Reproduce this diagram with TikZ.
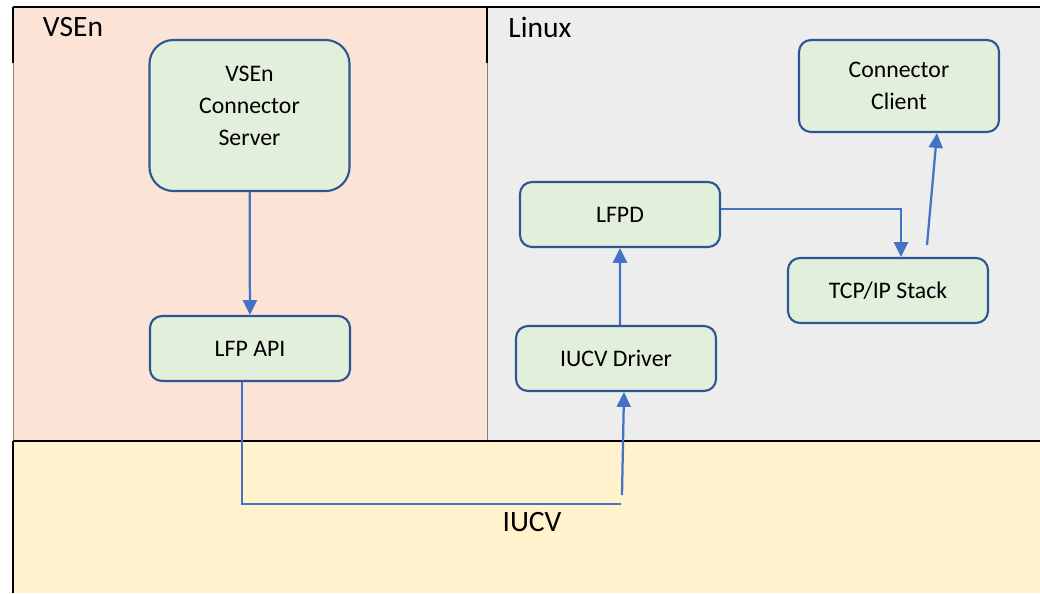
\documentclass[tikz,border=0pt]{standalone}
\usepackage{fontspec}
\setmainfont{Carlito}
\usetikzlibrary{arrows.meta}
\usetikzlibrary{positioning}
\definecolor{vsepink}{HTML}{FBE3D6}
\definecolor{linuxgray}{HTML}{EDEDED}
\definecolor{iucvyellow}{HTML}{FFF2CC}
\definecolor{boxgreen}{HTML}{E2EFDA}
\definecolor{boxblue}{HTML}{2F5597}
\definecolor{arrowblue}{HTML}{4472C4}
\tikzset{comp/.style = {draw=boxblue, fill=boxgreen, line width=1.5pt,
                        rounded corners=0.3cm, minimum width=5cm, minimum height=1.625cm,
                        align=center, font=\fontsize{16.9}{22.7}\selectfont}}
\tikzset{flow/.style = {draw=arrowblue, line width=1.6pt,
                        -{Triangle[length=0.37cm, width=0.35cm]}}}
\tikzset{link/.style = {draw=arrowblue, line width=0.8pt}}
\tikzset{area/.style = {font=\fontsize{21}{25}\selectfont}}

\begin{document}
\begin{tikzpicture}[x=0.025cm, y=-0.025cm]
    \useasboundingbox (0, 0) rectangle (1040, 593);
    \fill [vsepink] (13, 7) rectangle (487, 441);
    \fill [linuxgray] (487, 7) rectangle (1040, 441);
    \fill [iucvyellow] (13, 441) rectangle (1040, 593);

    \draw [line width=1.4pt] (13, 7) -- (1040, 7);
    \draw [line width=1.4pt] (13, 7) -- (13, 63);
    \draw [line width=1.4pt] (487, 7) -- (487, 63);
    \draw [gray, line width=0.6pt] (13, 63) -- (13, 441);
    \draw [gray, line width=0.6pt] (487, 63) -- (487, 441);
    \draw [line width=1.4pt] (13, 441) -- (1040, 441);
    \draw [line width=1.4pt] (13, 441) -- (13, 593);

    \node [area] (vsen) at (73, 27) {VSEn};
    \node [area] (linux) at (540, 27) {Linux};
    \node [area] (iucv) at (532, 522) {IUCV};

    \node [comp, minimum height=3.775cm, rounded corners=0.6cm, text depth=0.5cm] (server)
      at (249.5, 115.5) {VSEn\\Connector\\Server};
    \node [comp] (api) at (250, 348.5) {LFP API};
    \node [comp, minimum height=2.3cm] (client) at (899, 86) {Connector\\Client};
    \node [comp] (lfpd) at (620, 214.5) {LFPD};
    \node [comp] (tcp) at (888, 290.5) {TCP/IP Stack};
    \node [comp] (drv) at (616, 358.5) {IUCV Driver};

    \coordinate (bend) at (621, 504);
    \coordinate (drvin) at (622, 495);
    \coordinate (tcpout) at (927, 245);

    \draw [flow] (server) -- (api);
    \draw [link] ([xshift=-0.2cm]api.south) |- (bend);
    \draw [flow] (drvin) -- ([xshift=0.2cm]drv.south);
    \draw [flow] ([xshift=0.1cm]drv.north) -- (lfpd.south);
    \draw [flow] ([yshift=0.14cm]lfpd.east) -| ([xshift=0.325cm]tcp.north);
    \draw [flow] (tcpout) -- ([xshift=0.95cm]client.south);
  \end{tikzpicture}
\end{document}
